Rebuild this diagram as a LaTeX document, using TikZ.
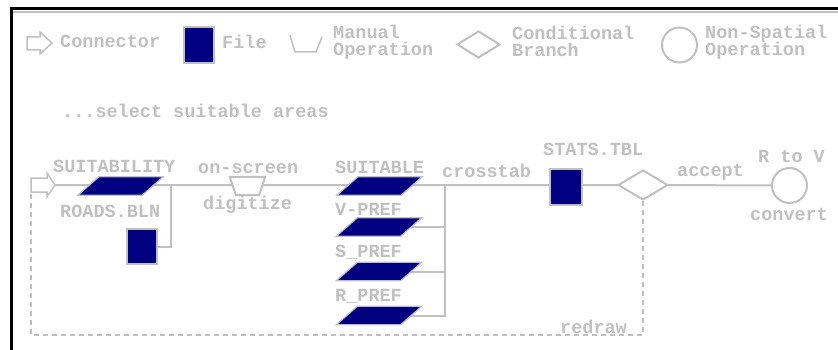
\documentclass[tikz,border=0pt]{standalone}
\usepackage{fontspec}
\setmonofont{Liberation Mono}
\usetikzlibrary{shapes.geometric}
\definecolor{ink}{HTML}{C0C0C0}
\definecolor{navyfill}{HTML}{000080}
\pgfdeclarelayer{wires}
\pgfsetlayers{wires,main}

% slanted data-layer symbol drawn inside the frame of a named node
\newcommand\layersymbol[1]{%
  \filldraw[fill=navyfill, draw=ink, line width=1.2pt]
    ([xshift=21pt]#1.north west) -- (#1.north east)
    -- ([xshift=-21pt]#1.south east) -- (#1.south west) -- cycle;}
% manual-operation trough drawn inside the frame of a named node
\newcommand\troughsymbol[1]{%
  \filldraw[fill=white, draw=ink, line width=2pt]
    (#1.north west) -- (#1.north east)
    -- ([xshift=-6pt]#1.south east) -- ([xshift=6pt]#1.south west) -- cycle;}

\begin{document}
\begin{tikzpicture}[x=1pt,y=-1pt,
  lbl/.style={anchor=base west, inner sep=0pt, text=ink,
              font=\ttfamily\bfseries\fontsize{18.5}{18.5}\selectfont},
  wire/.style={draw=ink, line width=2pt},
  loopline/.style={draw=ink, line width=2pt, dash pattern=on 5pt off 4pt},
  filebox/.style={rectangle, fill=navyfill, draw=ink, line width=1.5pt, inner sep=0pt},
  layer/.style={rectangle, minimum width=85pt, minimum height=18pt, inner sep=0pt},
  manop/.style={rectangle, minimum width=35pt, minimum height=18pt, inner sep=0pt},
  branch/.style={diamond, fill=white, draw=ink, line width=2pt, inner sep=0pt},
  nonspatial/.style={circle, fill=white, draw=ink, line width=2pt, inner sep=0pt,
                     minimum size=35pt}
]
\useasboundingbox (0,0) rectangle (838,350);

% frame
\draw[black, line width=3pt] (11.5,350) -- (11.5,9) -- (838,9);
\draw[ink, line width=1.5pt] (13,12) -- (838,12);

% ---- legend ----
\draw[ink, line width=1.5pt] (27,37) -- (40,37) -- (40,32) -- (52,43) -- (40,54)
      -- (40,50) -- (27,50) -- cycle;
\node[lbl] (lgConn) at (60,48) {Connector};
\node[filebox, minimum width=30pt, minimum height=36pt] (lgFile) at (199,45) {};
\node[lbl] (lgFileT) at (222,49) {File};
\draw[ink, line width=1.5pt] (290,35) -- (295,52) -- (316,52) -- (322,37);
\node[lbl] (lgMan1) at (333,39) {Manual};
\node[lbl] (lgMan2) at (333,56) {Operation};
\node[branch, minimum width=43pt, minimum height=27pt] (lgCond) at (478.5,44.5) {};
\node[lbl] (lgCond1) at (512,40) {Conditional};
\node[lbl] (lgCond2) at (512,57) {Branch};
\node[nonspatial] (lgNs) at (679.5,45) {};
\node[lbl] (lgNs1) at (705,39) {Non-Spatial};
\node[lbl] (lgNs2) at (705,56) {Operation};

\node[lbl] (title) at (62,118) {...select suitable areas};

% ---- flow ----
\coordinate (entryTip) at (55,185);
\coordinate (entryFoot) at (31,192);
\coordinate (j1) at (171,185);
\coordinate (j2) at (445,185);
\coordinate (loopCorner) at (31,335);

\node[layer] (suitF) at (120.5,186) {};
\node[filebox, minimum width=30pt, minimum height=35pt] (roads) at (142,246.5) {};
\node[manop] (mop) at (247.5,186) {};
\node[layer] (suitableF) at (379.5,186) {};
\node[layer] (vpref) at (379,227) {};
\node[layer] (spref) at (379,271.5) {};
\node[layer] (rpref) at (379,315.5) {};
\node[filebox, minimum width=32pt, minimum height=36pt] (stats) at (566,187) {};
\node[branch, minimum width=50pt, minimum height=30pt] (cond) at (643,185) {};
\node[nonspatial] (rtov) at (789.5,185.5) {};

\foreach \n in {suitF,suitableF,vpref,spref,rpref} {\layersymbol{\n}}
\troughsymbol{mop}

% connectors, kept beneath the symbols
\begin{pgfonlayer}{wires}
\draw[wire] (entryTip) -- (suitF.center |- entryTip) -- (j1) -- (mop.center |- j1)
      -- (suitableF.center |- j1) -- (j2) -- (stats.center |- j2) -- (cond.center)
      -- (rtov.center);
\draw[wire] (roads.east) -| (j1);
\draw[wire] (vpref.center) -| (j2);
\draw[wire] (spref.center) -| (j2);
\draw[wire] (rpref.center) -| (j2);
\draw[loopline] (cond.south) |- (loopCorner) -- (entryFoot);
\end{pgfonlayer}

% entry connector arrow
\draw[ink, line width=1.5pt, fill=white] (31,178) -- (47,178) -- (47,173) -- (entryTip)
      -- (47,197) -- (47,192) -- (entryFoot) -- cycle;

% labels
\node[lbl] at (53,172) {SUITABILITY};
\node[lbl] at (60,217) {ROADS.BLN};
\node[lbl] at (198,173) {on-screen};
\node[lbl] at (203,209) {digitize};
\node[lbl] at (335,173) {SUITABLE};
\node[lbl] at (335,215) {V-PREF};
\node[lbl] at (335,257) {S\_PREF};
\node[lbl] at (335,301) {R\_PREF};
\node[lbl] at (442,178) {crosstab};
\node[lbl] at (543,156) {STATS.TBL};
\node[lbl] at (677,176) {accept};
\node[lbl] at (758,162) {R to V};
\node[lbl] at (750,220) {convert};
\node[lbl] at (560,333) {redraw};
\end{tikzpicture}
\end{document}
